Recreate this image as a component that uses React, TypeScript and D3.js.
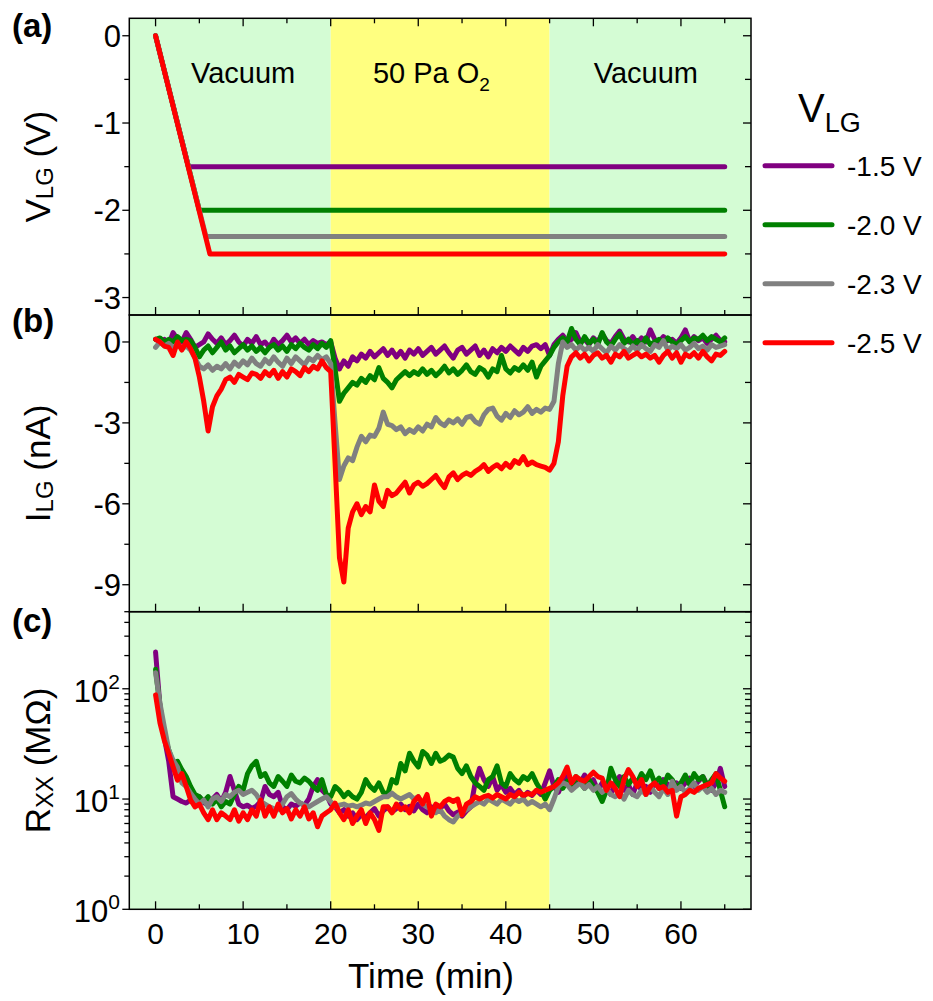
import React from 'react';
import * as d3 from 'd3';

// sampling times (min), one value per 0.5 min
const TIME = [
  0, 0.5, 1, 1.5, 2, 2.5, 3, 3.5, 4, 4.5,
  5, 5.5, 6, 6.5, 7, 7.5, 8, 8.5, 9, 9.5,
  10, 10.5, 11, 11.5, 12, 12.5, 13, 13.5, 14, 14.5,
  15, 15.5, 16, 16.5, 17, 17.5, 18, 18.5, 19, 19.5,
  20, 20.5, 21, 21.5, 22, 22.5, 23, 23.5, 24, 24.5,
  25, 25.5, 26, 26.5, 27, 27.5, 28, 28.5, 29, 29.5,
  30, 30.5, 31, 31.5, 32, 32.5, 33, 33.5, 34, 34.5,
  35, 35.5, 36, 36.5, 37, 37.5, 38, 38.5, 39, 39.5,
  40, 40.5, 41, 41.5, 42, 42.5, 43, 43.5, 44, 44.5,
  45, 45.5, 46, 46.5, 47, 47.5, 48, 48.5, 49, 49.5,
  50, 50.5, 51, 51.5, 52, 52.5, 53, 53.5, 54, 54.5,
  55, 55.5, 56, 56.5, 57, 57.5, 58, 58.5, 59, 59.5,
  60, 60.5, 61, 61.5, 62, 62.5, 63, 63.5, 64, 64.5,
  65,
];

// (b) gate leakage current I_LG (nA)
const ILG_15 = [
  0.1, 0.0, 0.1, -0.1, 0.35, 0.1, 0.0, 0.35, 0.1, -0.2,
  -0.1, 0.0, 0.3, 0.1, -0.05, 0.15, -0.1, 0.05, 0.25, 0.0,
  -0.15, 0.1, -0.05, 0.2, -0.1, 0.0, -0.2, 0.1, -0.1, 0.05,
  0.25, 0.0, 0.15, -0.05, 0.1, -0.1, 0.05, -0.05, 0.0, -0.1,
  0.0, -0.6, -1.0, -0.7, -0.9, -0.55, -0.7, -0.45, -0.6, -0.35,
  -0.55, -0.4, -0.25, -0.5, -0.3, -0.55, -0.35, -0.6, -0.3, -0.45,
  -0.25, -0.5, -0.35, -0.2, -0.45, -0.3, -0.15, -0.4, -0.6, -0.3,
  -0.2, -0.45, -0.3, -0.15, -0.5, -0.3, -0.55, -0.25, -0.4, -0.2,
  -0.35, -0.15, -0.3, -0.45, -0.2, -0.35, -0.15, -0.1, -0.25, -0.1,
  -0.5, -0.1, 0.1, 0.25, 0.0, 0.1, 0.35, 0.0, 0.1, -0.1,
  0.15, 0.0, 0.3, 0.05, -0.05, 0.2, 0.4, 0.1, 0.0, 0.2,
  -0.05, 0.15, 0.0, 0.45, 0.1, 0.0, 0.2, 0.05, 0.1, -0.05,
  0.15, 0.45, 0.0, 0.2, 0.05, 0.15, -0.05, 0.1, 0.25, 0.05,
  0.0,
];
const ILG_20 = [
  0.1, 0.15, 0.0, 0.1, 0.0, 0.2, 0.05, 0.1, 0.05, -0.2,
  -0.55, -0.3, -0.15, -0.4, -0.2, 0.0, -0.3, -0.15, -0.4, -0.25,
  -0.1, -0.3, -0.15, -0.35, -0.2, -0.4, -0.2, -0.1, -0.3, -0.15,
  -0.35, -0.1, -0.25, -0.05, -0.2, -0.3, -0.1, -0.25, -0.05, -0.2,
  0.05, -1.0, -2.2, -1.9, -1.7, -1.5, -1.6, -1.35, -1.5, -1.25,
  -1.4, -0.95, -1.35, -1.5, -1.7, -1.4, -1.25, -1.1, -1.25, -1.1,
  -1.2, -1.0, -1.2, -1.05, -1.25, -1.1, -0.9, -1.15, -1.0, -1.2,
  -1.05, -0.85, -1.1, -1.2, -0.95, -1.05, -1.3, -1.0, -1.1, -0.5,
  -1.0, -1.15, -0.95, -1.05, -0.85, -1.05, -0.75, -1.3, -0.9, -0.7,
  -0.5, -0.2, 0.0, 0.15, 0.0, 0.5, 0.1, -0.1, 0.2, -0.05,
  0.1, -0.1, 0.35, 0.0, -0.15, 0.1, 0.3, -0.05, 0.1, -0.1,
  0.05, -0.15, 0.15, -0.1, 0.0, 0.1, -0.05, 0.15, 0.0, -0.1,
  0.05, 0.2, 0.0, 0.15, 0.1, 0.25, 0.05, 0.2, 0.1, 0.0,
  0.15,
];
const ILG_23 = [
  -0.2, 0.0, -0.15, -0.05, -0.2, -0.1, -0.25, -0.15, -0.3, -0.6,
  -0.9, -1.0, -0.85, -1.05, -0.9, -1.0, -0.8, -1.0, -0.75, -0.9,
  -0.7, -0.85, -0.6, -0.8, -0.9, -0.65, -0.8, -0.55, -0.75, -0.9,
  -0.6, -0.8, -0.55, -0.7, -0.85, -0.6, -0.7, -0.5, -0.65, -0.55,
  -0.8, -3.0, -5.1, -4.6, -4.3, -4.4, -3.9, -3.5, -3.7, -3.45,
  -3.5, -3.2, -2.6, -3.05, -3.1, -3.25, -3.15, -3.4, -3.25, -3.35,
  -3.15, -3.3, -3.05, -3.15, -2.8, -3.0, -3.1, -2.9, -3.0, -2.85,
  -3.05, -2.8, -2.75, -2.95, -3.05, -2.7, -2.5, -2.45, -2.75, -2.9,
  -2.65, -2.8, -2.55, -2.7, -2.6, -2.4, -2.65, -2.5, -2.6, -2.45,
  -2.5, -2.2, -0.8, 0.0, -0.2, -0.1, -0.3, -0.15, -0.3, -0.2,
  -0.35, -0.1, -0.25, -0.4, -0.15, -0.3, -0.1, -0.25, -0.35, -0.15,
  -0.3, -0.1, -0.25, -0.35, -0.1, -0.2, 0.05, -0.3, -0.15, -0.25,
  -0.1, -0.3, -0.2, -0.05, -0.25, -0.15, -0.3, -0.1, -0.2, -0.15,
  -0.1,
];
const ILG_25 = [
  0.1, 0.0, -0.15, -0.2, -0.5, 0.0, -0.3, 0.0, -0.25, -0.6,
  -1.3, -2.2, -3.3, -2.4, -2.0, -1.75, -1.4, -1.3, -1.5, -1.2,
  -1.3, -1.4, -1.15, -1.2, -1.35, -1.1, -1.25, -1.05, -1.35, -1.1,
  -1.3, -1.0, -1.1, -1.25, -0.95, -1.1, -0.9, -1.0, -0.7, -0.95,
  -1.1, -4.5, -8.0, -8.9, -6.9, -6.3, -6.0, -6.4, -6.1, -6.3,
  -5.3, -5.9, -6.1, -5.5, -5.7, -5.6, -5.4, -5.2, -5.6, -5.3,
  -5.2, -5.35, -5.25, -5.1, -4.95, -5.2, -5.4, -5.0, -4.85, -5.1,
  -4.95, -4.85, -4.95, -4.8, -4.7, -4.55, -4.8, -4.65, -4.55, -4.7,
  -4.5, -4.65, -4.4, -4.5, -4.25, -4.55, -4.45, -4.55, -4.6, -4.65,
  -4.75, -4.5, -3.7, -2.0, -0.9, -0.55, -0.4, -0.6, -0.45, -0.7,
  -0.5, -0.4, -0.6, -0.5, -0.75, -0.45, -0.55, -0.35, -0.6, -0.5,
  -0.4, -0.55, -0.45, -0.6, -0.5, -0.75, -0.5, -0.35, -0.6, -0.4,
  -0.75, -0.45, -0.55, -0.4, -0.6, -0.35, -0.55, -0.7, -0.45, -0.5,
  -0.35,
];

// (c) channel resistance R_XX (MOhm)
const RXX_15 = [
  215, 70, 36, 22, 10.5, 10, 9.5, 9.2, 9.8, 9,
  10.5, 9.3, 8.8, 10, 11, 9.5, 11.5, 16, 12, 9,
  8.5, 8.8, 8.2, 8.6, 9.5, 13, 11, 10.5, 11.5, 8.5,
  8, 9, 8.6, 9.2, 8.8, 10, 13, 15, 12, 11,
  9, 8.5, 7.5, 8, 7, 7.5, 6.5, 7.2, 6.8, 7.5,
  8.2, 7, 7.8, 8.5, 7.6, 8.2, 9, 8, 8.6, 7.8,
  9, 8, 7.5, 8.5, 7.6, 8.2, 9, 7.8, 7.2, 7.6,
  7, 7.8, 8.5, 14, 19, 15, 13, 16, 12, 13.5,
  11.5, 12.5, 11, 12, 10.5, 11.5, 10.8, 12, 11, 14,
  18, 13, 11.5, 14, 16, 13, 15, 14, 16.5, 13.5,
  15, 12, 14, 12.5, 11, 14, 16, 12, 13.5, 11,
  14, 12, 13, 11.5, 14.5, 12.5, 15, 13.5, 12, 14,
  12.5, 14, 15.5, 13, 14.5, 16, 13.5, 12, 14, 19,
  13,
];
const RXX_20 = [
  150, 70, 38, 28, 21, 22, 18.5, 16, 13, 11,
  10.5, 9.5, 10.5, 9, 10, 8.5, 9.5, 9, 11, 13,
  12, 17, 20, 22, 16, 17, 14, 13, 16, 14.5,
  13, 16.5, 14.5, 14, 15.5, 14.5, 13, 12, 15, 11,
  10.5, 13, 12, 10.5, 11.5, 10.5, 10, 11.5, 15, 13,
  12, 14, 11.5, 11, 15, 14, 21, 18, 26, 22,
  19.5, 27, 25, 21, 26, 22, 23, 25, 24, 19,
  17, 20, 16, 14, 13, 12, 15, 16, 20, 14,
  13, 17, 15, 14, 16, 15, 17, 14, 12, 10,
  12, 13, 15, 12.5, 14.5, 13, 16, 14, 12.5, 15,
  13, 11.5, 9.5, 12, 19, 15, 13, 16, 13.5, 15.5,
  14, 17, 15, 18, 14, 15.5, 13, 16.5, 15, 12.5,
  14, 16.5, 13.5, 17, 15, 16, 13, 15, 17, 12,
  8.5,
];
const RXX_23 = [
  140, 74, 45, 28, 22.5, 19.5, 14, 13, 11.3, 10,
  9, 9.8, 8.5, 10, 10.5, 9.5, 11, 10.5, 11.5, 12,
  11, 11.5, 12, 11, 9.5, 9, 8.5, 8.2, 8, 9,
  10.5, 11.2, 10, 9.2, 8.8, 8.5, 9, 9.5, 10, 10.5,
  9.5, 8.5, 8.8, 9, 8.6, 8.8, 8.5, 8.8, 9.2, 9,
  9.5, 10, 10.5, 10.5, 11.3, 10.5, 10, 10.5, 11, 10,
  10.5, 9, 8.5, 8, 7.5, 8, 7, 6.5, 6.2, 7,
  7.5, 8, 8.5, 9, 9.5, 9, 10, 9.5, 9, 10,
  9.5, 9, 10, 9.5, 10, 9, 9.5, 9, 8.5, 9,
  8, 10, 13, 14, 13.5, 12, 13, 14, 12.5, 13.5,
  12, 13, 11.5, 12.5, 11, 10.5, 11.5, 10, 12, 11,
  10.5, 12, 11, 13, 11.5, 10.5, 12.5, 11, 14.5, 12,
  13, 11.5, 12.5, 14, 12, 13, 11.5, 12.5, 11, 12,
  11.5,
];
const RXX_25 = [
  88, 49, 34, 26, 19.6, 14.8, 17, 13, 9.8, 8.5,
  9, 7.5, 6.5, 8, 6.5, 7.5, 7, 6.5, 8, 6.3,
  7.5, 6.5, 8, 7, 9.8, 7, 8.5, 7, 9, 7.5,
  8.2, 6.6, 8, 7, 8.5, 6.6, 7.5, 5.6, 7, 7.5,
  8, 9.2, 7.5, 6.5, 8, 6, 7, 8, 6, 7.5,
  6.5, 5.2, 8.5, 8.5, 7.5, 9, 8, 8.5, 7.5, 9.5,
  10.5, 9, 11, 7, 9, 8.5, 9.5, 10, 9.5, 10,
  7.2, 9, 9.5, 10.5, 10, 10.5, 10.8, 10.2, 11, 10.5,
  10, 11, 10.5, 11.5, 10.8, 11.2, 11, 12, 11.5, 12,
  12.5, 13, 14, 16, 19.5, 14, 16, 15, 14.5, 16,
  17.5, 16, 15.5, 12, 14, 12.5, 10.5, 15, 18.5, 16,
  13, 15, 11, 13, 14, 12.5, 13, 11.5, 12, 7,
  10.5, 11, 12, 11.5, 12.5, 13, 13.5, 14, 17, 15.5,
  14.5,
];

// (a) gate voltage: linear ramp from 0 V, then held to the end of the run
const VLG_LEVELS = [-1.5, -2.0, -2.3, -2.5];
const VLG_RAMP_END = [3.75, 5.0, 5.75, 6.2];
const RUN_END = 65;

const LEGEND_LABELS = ['-1.5 V', '-2.0 V', '-2.3 V', '-2.5 V'];
const ILG_SERIES = [ILG_15, ILG_20, ILG_23, ILG_25];
const RXX_SERIES = [RXX_15, RXX_20, RXX_23, RXX_25];

const PHASE_EDGES = [-3, 20, 45, 68];
const PHASE_LABEL_AT = [10, 31.5, 56];

const X_MAJOR = [0, 10, 20, 30, 40, 50, 60];
const X_MINOR = [5, 15, 25, 35, 45, 55, 65];
const YA_MAJOR = [0, -1, -2, -3];
const YA_MINOR = [-0.5, -1.5, -2.5];
const YB_MAJOR = [0, -3, -6, -9];
const YB_MINOR = [-1.5, -4.5, -7.5];
const YC_EXP = [0, 1, 2];

const COLORS = ['#800080', '#008000', '#808080', '#ff0000'];
const PHASE_FILLS = ['#d4fcd4', '#ffff80', '#d4fcd4'];
const FONT = "'Liberation Sans', Arial, Helvetica, sans-serif";

const W = 933, H = 1001;
const LEFT = 129.3, RIGHT = 751;
const TOP_A = 18.3, TOP_B = 315, TOP_C = 611.7, BOT_C = 909.3;
const LW = 5;

const x = d3.scaleLinear().domain([-3, 68]).range([LEFT, RIGHT]);
const ya = d3.scaleLinear().domain([-3.2, 0.2]).range([TOP_B, TOP_A]);
const yb = d3.scaleLinear().domain([-10, 1]).range([TOP_C, TOP_B]);
const yc = d3.scaleLog().domain([1, 500]).range([BOT_C, TOP_C]);

const ycMinor: number[] = [];
[1, 10, 100].forEach(d => {
  for (let k = 2; k <= 9; k++) if (d * k <= 500) ycMinor.push(d * k);
});

const seriesLine = (yScale: (v: number) => number) =>
  d3.line<number>().x((_, i) => x(TIME[i])).y(v => yScale(v));

const vlgLine = d3.line<[number, number]>().x(d => x(d[0])).y(d => ya(d[1]));

function YTicks({ scale, major, minor }: { scale: (v: number) => number; major: number[]; minor: number[] }) {
  return (
    <g stroke="#000" strokeWidth={1.3}>
      {major.map(v => (
        <g key={'M' + v}>
          <line x1={LEFT - 7} x2={LEFT} y1={scale(v)} y2={scale(v)} />
          <line x1={RIGHT - 8} x2={RIGHT} y1={scale(v)} y2={scale(v)} />
        </g>
      ))}
      {minor.map(v => (
        <g key={'m' + v}>
          <line x1={LEFT - 5} x2={LEFT} y1={scale(v)} y2={scale(v)} />
          <line x1={RIGHT - 6} x2={RIGHT} y1={scale(v)} y2={scale(v)} />
        </g>
      ))}
    </g>
  );
}

function XTicks({ y0, dir }: { y0: number; dir: number }) {
  return (
    <g stroke="#000" strokeWidth={1.3}>
      {X_MAJOR.map(t => <line key={'M' + t} x1={x(t)} x2={x(t)} y1={y0} y2={y0 + dir * 8} />)}
      {X_MINOR.map(t => <line key={'m' + t} x1={x(t)} x2={x(t)} y1={y0} y2={y0 + dir * 5} />)}
    </g>
  );
}

export default function App() {
  const lb = seriesLine(yb);
  const lc = seriesLine(yc);
  const panels = [
    [TOP_A, TOP_B],
    [TOP_B, TOP_C],
    [TOP_C, BOT_C],
  ];

  return (
    <svg width={W} height={H} style={{ position: 'absolute', left: 0, top: 0, background: '#fff' }} fontFamily={FONT}>
      {/* phase backgrounds */}
      {panels.map(([t, b], p) =>
        PHASE_FILLS.map((f, i) => (
          <rect key={p + '-' + i} x={x(PHASE_EDGES[i])} y={t} width={x(PHASE_EDGES[i + 1]) - x(PHASE_EDGES[i])} height={b - t} fill={f} />
        ))
      )}

      {/* phase labels */}
      <g fontSize={29} fill="#000">
        <text x={x(PHASE_LABEL_AT[0])} y={83} textAnchor="middle">Vacuum</text>
        <text x={x(PHASE_LABEL_AT[1])} y={83} textAnchor="middle">
          50 Pa O<tspan fontSize={19} dy={8}>2</tspan>
        </text>
        <text x={x(PHASE_LABEL_AT[2])} y={83} textAnchor="middle">Vacuum</text>
      </g>

      {/* (a) V_LG */}
      <g fill="none" strokeWidth={LW} strokeLinejoin="round" strokeLinecap="round">
        {VLG_LEVELS.map((lv, i) => (
          <path key={i} stroke={COLORS[i]}
            d={vlgLine([[0, 0], [VLG_RAMP_END[i], lv], [RUN_END, lv]]) || ''} />
        ))}
      </g>

      {/* (b) I_LG */}
      <g fill="none" strokeWidth={LW} strokeLinejoin="round" strokeLinecap="round">
        {ILG_SERIES.map((s, i) => <path key={i} stroke={COLORS[i]} d={lb(s) || ''} />)}
      </g>

      {/* (c) R_XX */}
      <g fill="none" strokeWidth={LW} strokeLinejoin="round" strokeLinecap="round">
        {RXX_SERIES.map((s, i) => <path key={i} stroke={COLORS[i]} d={lc(s) || ''} />)}
      </g>

      {/* frames */}
      <g fill="none" stroke="#000" strokeWidth={1.5}>
        {panels.map(([t, b], p) => <rect key={p} x={LEFT} y={t} width={RIGHT - LEFT} height={b - t} />)}
      </g>

      {/* x ticks: inward */}
      <XTicks y0={TOP_A} dir={1} />
      <XTicks y0={TOP_B} dir={-1} />
      <XTicks y0={TOP_C} dir={-1} />
      <XTicks y0={BOT_C} dir={-1} />

      {/* y ticks */}
      <YTicks scale={ya} major={YA_MAJOR} minor={YA_MINOR} />
      <YTicks scale={yb} major={YB_MAJOR} minor={YB_MINOR} />
      <YTicks scale={yc} major={YC_EXP.map(e => Math.pow(10, e))} minor={ycMinor} />

      {/* y tick labels */}
      <g fontSize={31} textAnchor="end" fill="#000">
        {YA_MAJOR.map(v => <text key={'a' + v} x={121} y={ya(v) + 11}>{String(v)}</text>)}
        {YB_MAJOR.map(v => <text key={'b' + v} x={121} y={yb(v) + 11}>{String(v)}</text>)}
        {YC_EXP.map(e => (
          <text key={'c' + e} x={120} y={yc(Math.pow(10, e)) + 13}>
            10<tspan fontSize={21} dy={-13}>{e}</tspan>
          </text>
        ))}
      </g>

      {/* x tick labels */}
      <g fontSize={30} textAnchor="middle" fill="#000">
        {X_MAJOR.map(t => <text key={t} x={x(t)} y={944}>{t}</text>)}
      </g>

      {/* axis titles */}
      <g fontSize={35} fill="#000" textAnchor="middle">
        <text transform={`translate(50,${(TOP_A + TOP_B) / 2}) rotate(-90)`}>
          V<tspan fontSize={24} dy={3}>LG</tspan><tspan dy={-3}> (V)</tspan>
        </text>
        <text transform={`translate(50,${(TOP_B + TOP_C) / 2}) rotate(-90)`}>
          I<tspan fontSize={24} dy={3}>LG</tspan><tspan dy={-3}> (nA)</tspan>
        </text>
        <text transform={`translate(50,${(TOP_C + BOT_C) / 2}) rotate(-90)`}>
          R<tspan fontSize={24} dy={3}>XX</tspan><tspan dy={-3}> (MΩ)</tspan>
        </text>
        <text x={431} y={988}>Time (min)</text>
      </g>

      {/* panel labels */}
      <g fontSize={33} fontWeight="bold" fill="#000">
        <text x={12} y={37}>(a)</text>
        <text x={12} y={332}>(b)</text>
        <text x={12} y={632}>(c)</text>
      </g>

      {/* legend */}
      <g fill="#000">
        <text x={798} y={122} fontSize={40}>
          V<tspan fontSize={27} dy={10}>LG</tspan>
        </text>
        {LEGEND_LABELS.map((lab, i) => {
          const ly = 165.7 + i * 59;
          return (
            <g key={lab}>
              <line x1={765} x2={832} y1={ly} y2={ly} stroke={COLORS[i]} strokeWidth={LW} strokeLinecap="round" />
              <text x={847} y={ly + 10} fontSize={28}>{lab}</text>
            </g>
          );
        })}
      </g>
    </svg>
  );
}
